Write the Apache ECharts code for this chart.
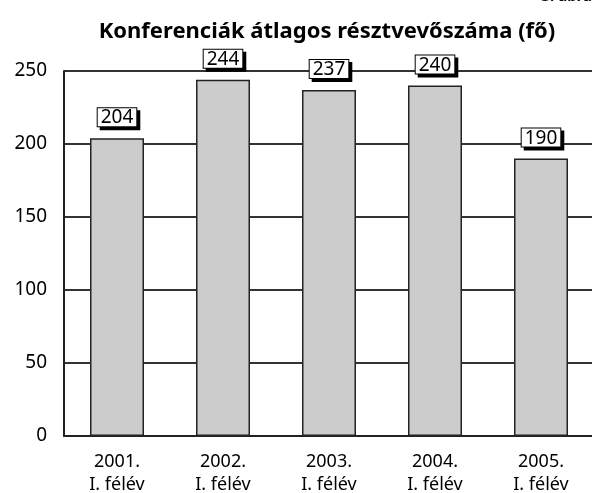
<!DOCTYPE html>
<html><head><meta charset="utf-8">
<script src="https://cdn.jsdelivr.net/npm/echarts@6/dist/echarts.min.js"></script>
<style>html,body{margin:0;padding:0;background:#fff}#c{width:592px;height:493px}</style>
</head><body><div id="c"></div>
<script>
const titleText = 'Konferenciák átlagos résztvevőszáma (fő)';
const categories = ['2001.\nI. félév', '2002.\nI. félév', '2003.\nI. félév', '2004.\nI. félév', '2005.\nI. félév'];
const values = [204, 244, 237, 240, 190];
const yTicks = [0, 50, 100, 150, 200, 250];
const FONT = '"Noto Sans", sans-serif';

const chart = echarts.init(document.getElementById('c'), null, {renderer: 'canvas'});
chart.setOption({
  animation: false,
  backgroundColor: '#fff',
  title: {
    text: titleText, left: 322, top: 16, textAlign: 'center',
    textStyle: {fontFamily: FONT, fontSize: 22, fontWeight: 'bold', color: '#000'}
  },
  graphic: [{type: 'text', right: 0, top: -11, style: {text: '3. ábra', font: 'bold 15px "Noto Sans"', fill: '#000'}}],
  grid: {left: 64, right: -2, top: 71, bottom: 57, containLabel: false, outerBoundsMode: 'none'},
  xAxis: {
    type: 'category', data: categories,
    axisLine: {show: true, lineStyle: {color: '#222', width: 2}},
    axisTick: {show: false},
    axisLabel: {fontFamily: FONT, fontSize: 18, color: '#000', lineHeight: 23, margin: 14}
  },
  yAxis: {
    type: 'value', min: yTicks[0], max: yTicks[yTicks.length - 1], interval: 50,
    axisLine: {show: true, lineStyle: {color: '#222', width: 2}},
    axisTick: {show: false},
    splitLine: {show: true, lineStyle: {color: '#333', width: 1.8}},
    axisLabel: {fontFamily: FONT, fontSize: 19, color: '#000', margin: 17}
  },
  series: [{
    type: 'bar', data: values, barWidth: 54,
    itemStyle: {color: '#cccccc', borderColor: '#222', borderWidth: 1.5},
    label: {
      show: true, position: 'top', distance: 12,
      fontFamily: FONT, fontSize: 19, color: '#000',
      backgroundColor: '#fff', borderColor: '#000', borderWidth: 1,
      padding: [0, 3, -1, 3], lineHeight: 19,
      shadowColor: '#000', shadowOffsetX: 3, shadowOffsetY: 3, shadowBlur: 0
    }
  }]
});
</script></body></html>
